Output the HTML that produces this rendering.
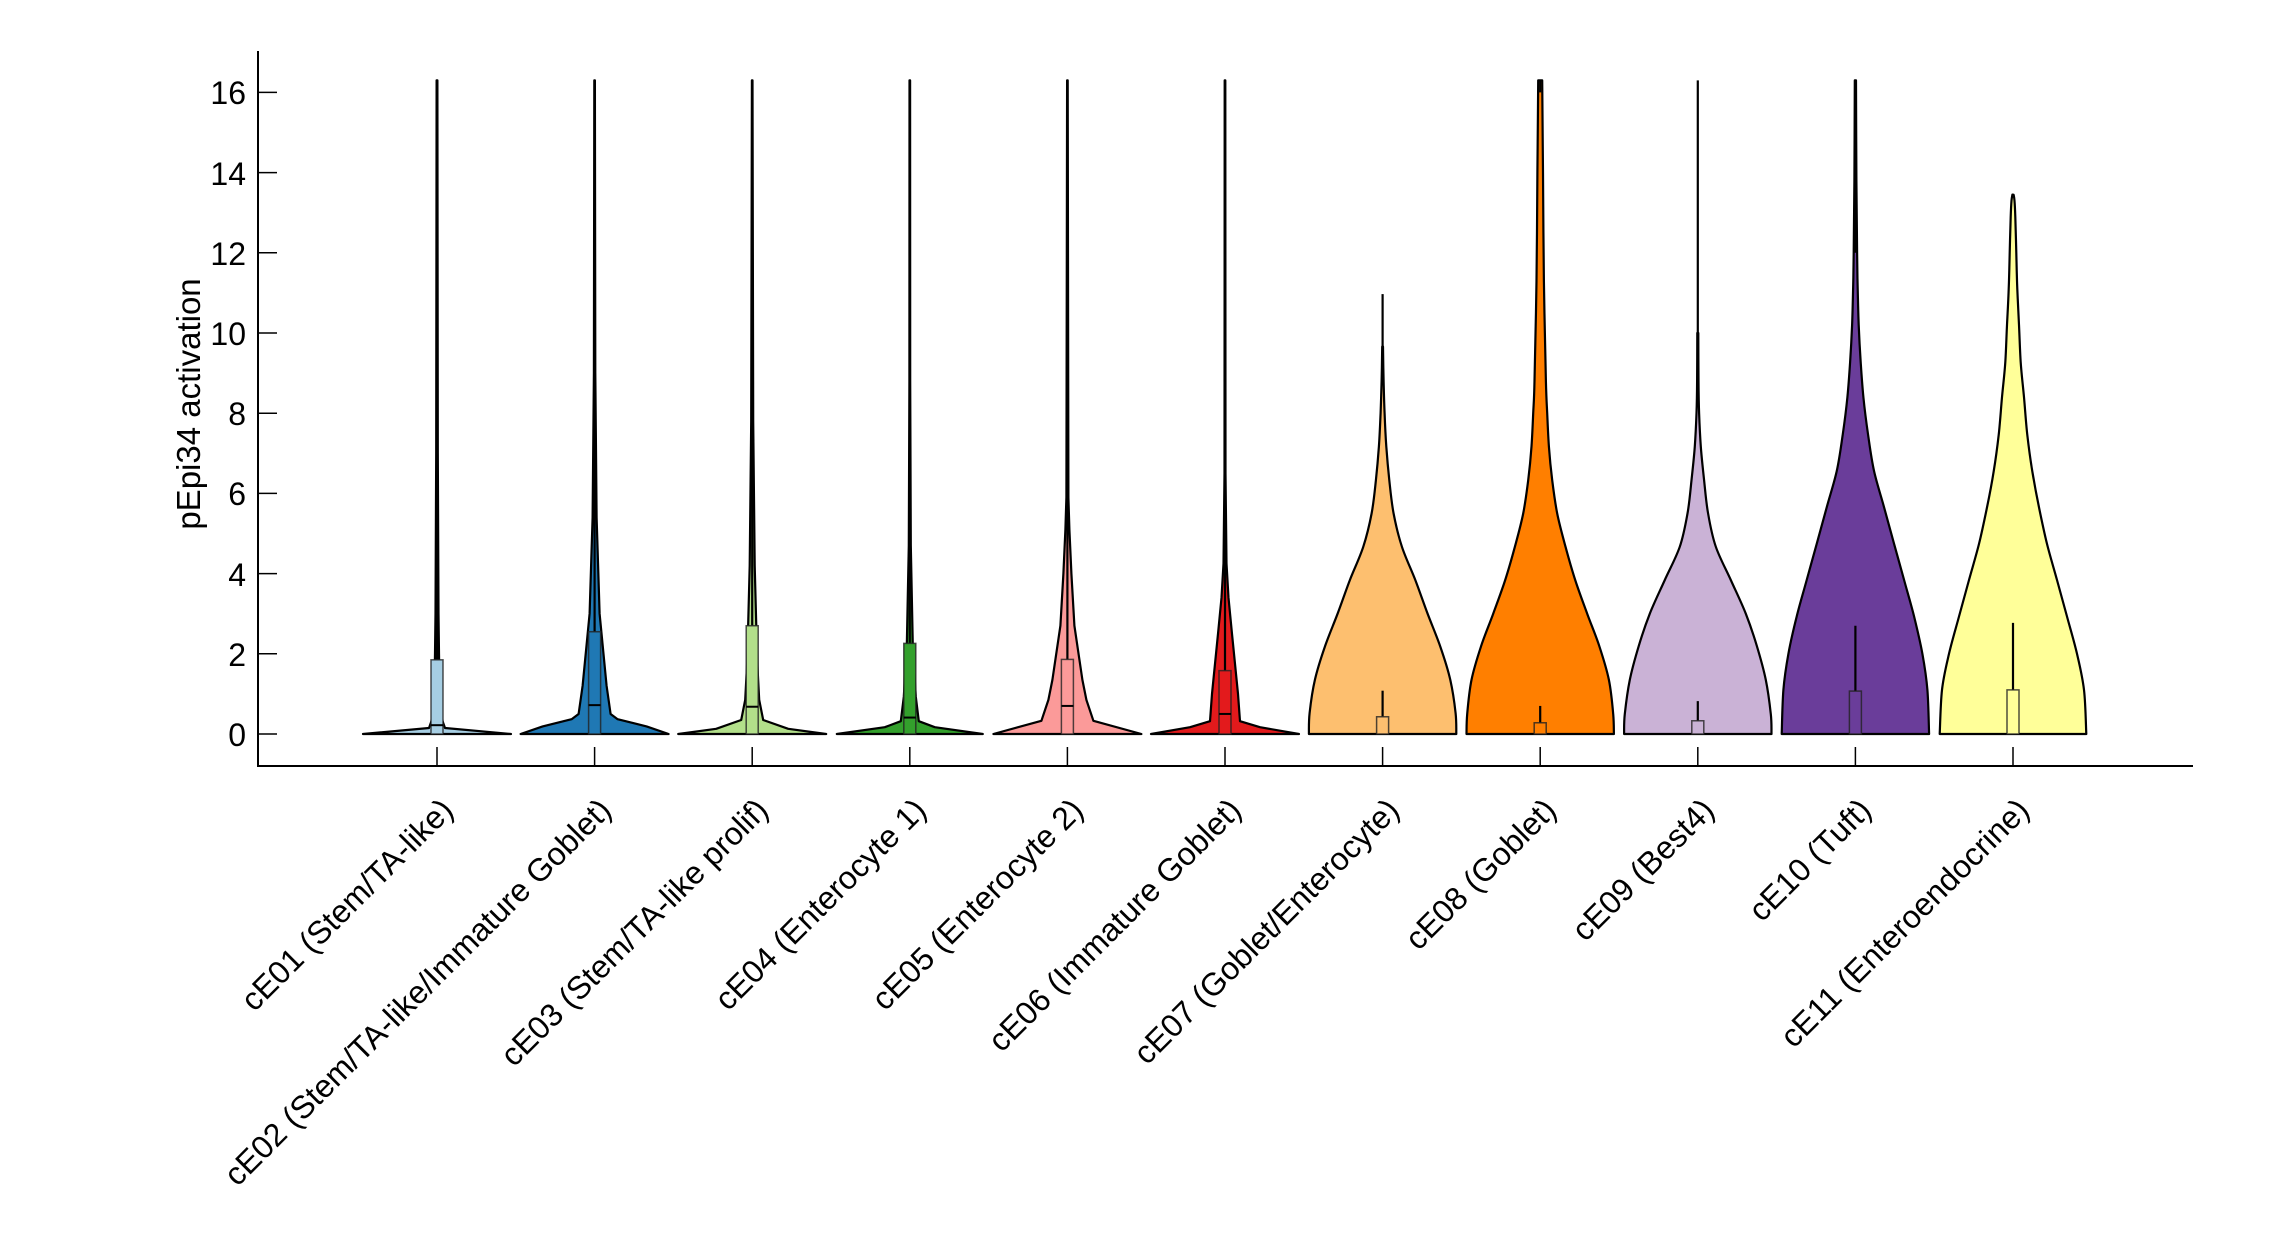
<!DOCTYPE html>
<html><head><meta charset="utf-8"><style>
html,body{margin:0;padding:0;background:#fff;}
svg{display:block;}
text{font-family:"Liberation Sans",Arial,sans-serif;fill:#000;}
</style></head><body>
<svg id="s" width="2292" height="1250" viewBox="0 0 2292 1250" xmlns="http://www.w3.org/2000/svg">
<rect width="2292" height="1250" fill="#fff"/>
<g id="viol"></g>
<g stroke="#000" stroke-width="2" fill="none">
<line x1="258" y1="51" x2="258" y2="767"/>
<line x1="257" y1="766" x2="2193" y2="766"/>
</g>
<g id="ticks" stroke="#000" stroke-width="1.5"></g>
<g font-size="32" text-anchor="end">
<text x="246" y="746">0</text>
<text x="246" y="666">2</text>
<text x="246" y="586">4</text>
<text x="246" y="505">6</text>
<text x="246" y="425">8</text>
<text x="246" y="345">10</text>
<text x="246" y="265">12</text>
<text x="246" y="185">14</text>
<text x="246" y="104">16</text>
</g>
<text font-size="33" text-anchor="middle" transform="translate(200,404) rotate(-90)">pEpi34 activation</text>
<g font-size="32" text-anchor="end" dominant-baseline="middle">
<text transform="translate(449,806) rotate(-45)">cE01 (Stem/TA-like)</text>
<text transform="translate(607,806) rotate(-45)">cE02 (Stem/TA-like/Immature Goblet)</text>
<text transform="translate(764,806) rotate(-45)">cE03 (Stem/TA-like prolif)</text>
<text transform="translate(922,806) rotate(-45)">cE04 (Enterocyte 1)</text>
<text transform="translate(1079,806) rotate(-45)">cE05 (Enterocyte 2)</text>
<text transform="translate(1237,806) rotate(-45)">cE06 (Immature Goblet)</text>
<text transform="translate(1395,806) rotate(-45)">cE07 (Goblet/Enterocyte)</text>
<text transform="translate(1552,806) rotate(-45)">cE08 (Goblet)</text>
<text transform="translate(1710,806) rotate(-45)">cE09 (Best4)</text>
<text transform="translate(1867,806) rotate(-45)">cE10 (Tuft)</text>
<text transform="translate(2025,806) rotate(-45)">cE11 (Enteroendocrine)</text>
</g>
</svg>
<script>
(function(){
var Y0=734,U=40.1,NS="http://www.w3.org/2000/svg";
function Y(v){return Y0-v*U;}
var V=[
{c:"#a6cee3",p:[[0,74],[0.15,8],[0.5,3],[2,2],[3,1.5],[7,0.8],[16.3,0.4]],q3:1.85,med:0.22,wt:16.3,sm:0},
{c:"#1f78b4",p:[[0,74],[0.19,52],[0.37,23],[0.5,16],[1.2,12],[3,5],[5.4,2],[9,0.7],[16.3,0.3]],q3:2.55,med:0.72,wt:16.3,sm:0},
{c:"#b2df8a",p:[[0,74],[0.13,36],[0.35,11],[0.85,7],[1.8,5],[4.2,2.5],[7.8,1],[16.3,0.3]],q3:2.7,med:0.68,wt:16.3,sm:0},
{c:"#33a02c",p:[[0,73],[0.17,25],[0.32,9],[0.93,6],[2.2,3],[4.7,1],[8.8,0.4],[16.3,0.3]],q3:2.26,med:0.41,wt:16.3,sm:0},
{c:"#fb9a99",p:[[0,74],[0.33,26],[0.85,19],[1.35,15],[2.7,7],[4,4],[5.1,2],[5.9,1],[16.3,0.3]],q3:1.86,med:0.7,wt:16.3,sm:0},
{c:"#e31a1c",p:[[0,74],[0.17,35],[0.32,15],[1.0,13],[2.5,7],[3.4,3.5],[4.25,1.5],[6.5,0.5],[16.3,0.3]],q3:1.58,med:0.5,wt:16.3,sm:0},
{c:"#fdbf6f",p:[[0,73.7],[0.52,73],[1.35,67.7],[2.18,57.7],[3.0,45],[3.84,32.7],[4.67,19.3],[5.5,11],[6.33,6.7],[7.17,3.7],[8,2],[8.8,1],[9.66,0.4]],q3:0.43,w:1.08,top:[9.5,10.97],sm:1},
{c:"#ff7f00",p:[[0,73.7],[0.5,73],[1.35,68.7],[2.2,59],[3.0,47],[3.84,35],[4.67,25.3],[5.5,17],[6.33,12],[7.17,8.7],[8,7],[8.8,5.7],[11.3,3.7],[14,2.8],[16.3,2]],q3:0.28,w:0.7,top:[16,16.3],sm:1},
{c:"#cab2d6",p:[[0,73.7],[0.5,73],[1.35,68],[2.2,59],[3.0,48],[3.84,33],[4.67,18],[5.5,10.3],[6.33,6.3],[7.17,3],[8,1.3],[8.8,0.7],[10,0.5]],q3:0.33,w:0.82,top:[9,16.3],sm:1},
{c:"#6a3d9a",p:[[0,73.7],[1.1,72],[2.0,67],[2.93,58.7],[3.84,48.7],[4.74,38.7],[5.65,28.7],[6.55,18.7],[7.46,12.7],[8.4,8],[9.27,5.3],[10.2,3.3],[11.1,2.3],[12,1.7],[13.8,1],[16.3,0.6]],q3:1.07,w:2.7,top:[12,16.3],sm:1},
{c:"#ffff99",p:[[0,73.3],[1.1,71],[2.0,64],[2.93,54],[3.84,44],[4.74,34],[5.65,26],[6.55,19.3],[7.46,14.3],[8.4,11],[9.27,7.7],[10.2,6],[11.1,4.3],[12,3.3],[12.9,2.3],[13.3,1.5],[13.45,0.6]],q3:1.1,w:2.77,sm:1}
];
var g=document.getElementById("viol"),tk=document.getElementById("ticks");
function el(n,a,par){var e=document.createElementNS(NS,n);for(var k in a)e.setAttribute(k,a[k]);(par||g).appendChild(e);return e;}
function cr(arr){var s="";for(var j=0;j<arr.length-1;j++){var p0=arr[Math.max(j-1,0)],p1=arr[j],p2=arr[j+1],p3=arr[Math.min(j+2,arr.length-1)];
   var c1=[p1[0]+(p2[0]-p0[0])/6,p1[1]+(p2[1]-p0[1])/6],c2=[p2[0]-(p3[0]-p1[0])/6,p2[1]-(p3[1]-p1[1])/6];
   s+=" C"+c1[0].toFixed(1)+","+c1[1].toFixed(1)+" "+c2[0].toFixed(1)+","+c2[1].toFixed(1)+" "+p2[0].toFixed(1)+","+p2[1].toFixed(1);}return s;}
V.forEach(function(v,i){
 var cx=437+i*157.6;
 var rev=v.p.slice().reverse();
 var R=v.p.map(function(p){return [cx+p[1],Y(p[0])];});
 var L=rev.map(function(p){return [cx-p[1],Y(p[0])];});
 var d;
 if(v.sm){
  d="M"+R[0][0]+","+R[0][1]+cr(R)+" L"+L[0][0]+","+L[0][1]+cr(L)+" Z";
 } else {
  d="M"+R.concat(L).map(function(p){return p[0].toFixed(1)+","+p[1].toFixed(1);}).join(" L")+" Z";
 }
 el("path",{d:d,fill:v.c,stroke:"#000","stroke-width":2.2,"stroke-linejoin":"round"});
 if(!v.sm){
  el("line",{x1:cx,y1:Y(v.q3),x2:cx,y2:Y(v.wt),stroke:"#000","stroke-width":2.2});
  el("rect",{x:cx-6,y:Y(v.q3),width:12,height:Y0-Y(v.q3),fill:v.c,stroke:"#222","stroke-width":1.5,"stroke-opacity":0.8});
  el("line",{x1:cx-6,y1:Y(v.med),x2:cx+6,y2:Y(v.med),stroke:"#000","stroke-width":2});
 } else {
  el("line",{x1:cx,y1:Y(v.q3),x2:cx,y2:Y(v.w),stroke:"#000","stroke-width":2.2});
  if(v.top) el("line",{x1:cx,y1:Y(v.top[0]),x2:cx,y2:Y(v.top[1]),stroke:"#000","stroke-width":2.2});
  el("rect",{x:cx-6,y:Y(v.q3),width:12,height:Y0-Y(v.q3),fill:v.c,stroke:"#222","stroke-width":1.5,"stroke-opacity":0.8});
 }
 el("line",{x1:cx,y1:766,x2:cx,y2:747},tk);
});
for(var t=0;t<=16;t+=2){el("line",{x1:258,y1:Y(t),x2:277,y2:Y(t)},tk);}
})();
</script>
</body></html>
